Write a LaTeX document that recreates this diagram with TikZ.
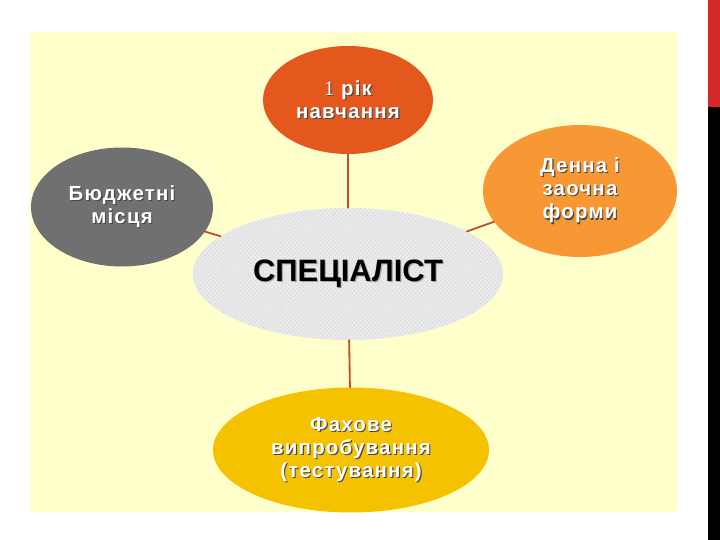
\documentclass[tikz,border=0pt]{standalone}
\usepackage{fontspec}
\setmainfont{Liberation Sans}
\newfontfamily\numfont{Liberation Serif}
\usetikzlibrary{shapes.geometric,patterns}
\definecolor{slide}{RGB}{255,255,204}
\definecolor{barRed}{RGB}{214,40,40}
\definecolor{ovalA}{RGB}{228,88,30}
\definecolor{ovalB}{RGB}{112,112,112}
\definecolor{ovalC}{RGB}{248,152,52}
\definecolor{ovalD}{RGB}{245,194,0}
\definecolor{ovalE}{RGB}{234,234,236}
\definecolor{linkRed}{RGB}{192,80,40}
\definecolor{shadeGray}{RGB}{70,70,70}
\tikzset{oval/.style={ellipse,inner sep=0pt,align=center,text=white,
   font=\fontsize{14.5}{16.5}\selectfont\bfseries\addfontfeatures{LetterSpace=6}},
 link/.style={draw=linkRed,line width=1.3pt},
 every picture/.style={line join=round,line cap=round}}
\newcommand{\shd}[2][shadeGray]{\rlap{\kern.8pt\raisebox{-.8pt}{\textcolor{#1}{#2}}}#2}

\begin{document}
\begin{tikzpicture}[]
\useasboundingbox[fill=white] (0.000,0.000) rectangle (18.000,13.500);
\path[fill=slide] (0.750,0.700) rectangle (16.925,12.700);
\path[fill=barRed] (17.700,10.825) rectangle (18.000,13.500);
\path[fill=black] (17.700,0.000) rectangle (18.000,10.825);
\node[oval,fill=ovalE,postaction={pattern=crosshatch dots,pattern color=gray!35},
  minimum width=7.750cm,minimum height=3.300cm,text=black,
  font=\fontsize{22}{24}\selectfont\bfseries] (spec) at (8.700,6.650) {\shd[gray!70]{СПЕЦІАЛІСТ}};
\node[oval,fill=ovalA,minimum width=4.250cm,minimum height=2.700cm] (year) at (8.700,11.000)
  {\shd{{\numfont\mdseries 1} рік}\\\shd{навчання}};
\node[oval,fill=ovalB,minimum width=4.550cm,minimum height=2.975cm] (budget) at (3.050,8.325)
  {\shd{Бюджетні}\\\shd{місця}};
\node[oval,fill=ovalC,minimum width=4.850cm,minimum height=3.300cm] (form) at (14.500,8.725)
  {\shd{Денна і}\\\shd{заочна}\\\shd{форми}};
\node[oval,fill=ovalD,minimum width=6.900cm,minimum height=3.125cm] (exam) at (8.775,2.250)
  {\shd{Фахове}\\\shd{випробування}\\\shd{(тестування)}};
\draw[link] (spec) -- (year);
\draw[link] (spec) -- (budget);
\draw[link] (spec) -- (form);
\draw[link] (spec) -- (exam);
\end{tikzpicture}
\end{document}
